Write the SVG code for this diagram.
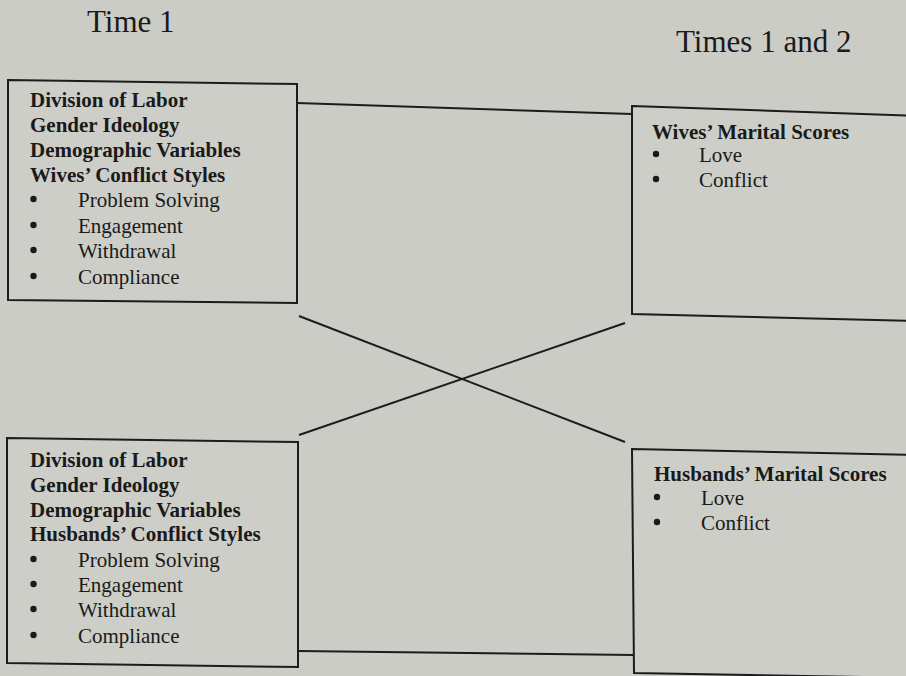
<svg xmlns="http://www.w3.org/2000/svg" width="906" height="676" viewBox="0 0 906 676">
<style>
.bg{fill:#cbccc6}
.box{fill:#cdcec8;stroke:#1c1c1c;stroke-width:2}
.edge{stroke:#1c1c1c;stroke-width:2;fill:none}
.dot{fill:#1a1a1a}
text{font-family:"Liberation Serif","Times New Roman",serif;fill:#1a1a1a}
.title{font-size:31px}
.b{font-size:21px;font-weight:bold}
.r{font-size:21px}
</style>
<rect class="bg" x="0" y="0" width="906" height="676"/>
<g id="headings">
<text class="title" x="87" y="32">Time 1</text>
<text class="title" x="676" y="52">Times 1 and 2</text>
</g>
<g id="connectors">
<line class="edge" x1="297" y1="103" x2="632" y2="114"/>
<line class="edge" x1="299" y1="316" x2="625" y2="442"/>
<line class="edge" x1="299" y1="435" x2="625" y2="323"/>
<line class="edge" x1="298" y1="651" x2="634" y2="655"/>
</g>
<g id="wives-predictors">
<polygon class="box" points="8,80 297,84 297,303 8,300"/>
<text class="b" x="30" y="107">Division of Labor</text>
<text class="b" x="30" y="132">Gender Ideology</text>
<text class="b" x="30" y="157">Demographic Variables</text>
<text class="b" x="30" y="182">Wives’ Conflict Styles</text>
<circle class="dot" cx="33.5" cy="199" r="3.2"/><text class="r" x="78" y="207">Problem Solving</text>
<circle class="dot" cx="33.5" cy="225" r="3.2"/><text class="r" x="78" y="233">Engagement</text>
<circle class="dot" cx="33.5" cy="250" r="3.2"/><text class="r" x="78" y="258">Withdrawal</text>
<circle class="dot" cx="33.5" cy="276" r="3.2"/><text class="r" x="78" y="284">Compliance</text>
</g>
<g id="wives-outcomes">
<polygon class="box" points="632,106 920,116 920,321 632,314"/>
<text class="b" x="652" y="139">Wives’ Marital Scores</text>
<circle class="dot" cx="656" cy="154" r="3.2"/><text class="r" x="699" y="162">Love</text>
<circle class="dot" cx="656" cy="179" r="3.2"/><text class="r" x="699" y="187">Conflict</text>
</g>
<g id="husbands-predictors">
<polygon class="box" points="7,438 298,442 298,667 7,663"/>
<text class="b" x="30" y="467">Division of Labor</text>
<text class="b" x="30" y="492">Gender Ideology</text>
<text class="b" x="30" y="517">Demographic Variables</text>
<text class="b" x="30" y="541">Husbands’ Conflict Styles</text>
<circle class="dot" cx="33.5" cy="559" r="3.2"/><text class="r" x="78" y="567">Problem Solving</text>
<circle class="dot" cx="33.5" cy="584" r="3.2"/><text class="r" x="78" y="592">Engagement</text>
<circle class="dot" cx="33.5" cy="609" r="3.2"/><text class="r" x="78" y="617">Withdrawal</text>
<circle class="dot" cx="33.5" cy="635" r="3.2"/><text class="r" x="78" y="643">Compliance</text>
</g>
<g id="husbands-outcomes">
<polygon class="box" points="632,449 920,455 920,678 634,673"/>
<text class="b" x="654" y="481">Husbands’ Marital Scores</text>
<circle class="dot" cx="657" cy="497" r="3.2"/><text class="r" x="701" y="505">Love</text>
<circle class="dot" cx="657" cy="522" r="3.2"/><text class="r" x="701" y="530">Conflict</text>
</g>
</svg>
